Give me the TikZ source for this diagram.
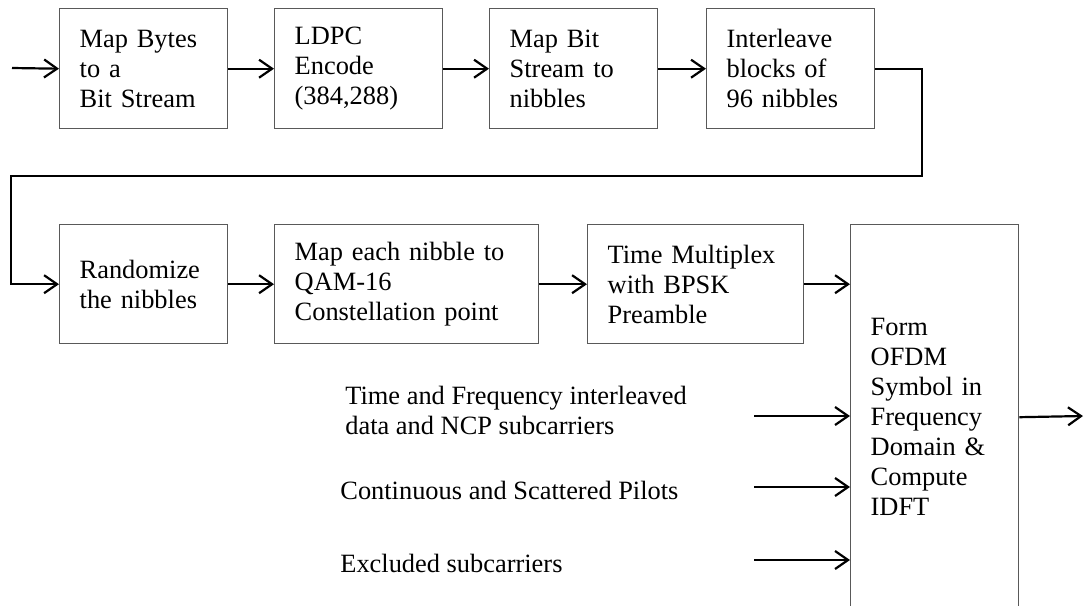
\documentclass[tikz,border=0pt]{standalone}
\usepackage{fontspec}
\setmainfont{Liberation Serif}
\usetikzlibrary{arrows.meta}

\begin{document}
\begin{tikzpicture}[x=0.5pt, y=-0.5pt,
	blk/.style={draw=black!65, line width=0.7pt, anchor=north west, align=left,
		inner xsep=10pt, inner ysep=0pt, font=\fontsize{13.2}{15}\selectfont},
	arr/.style={line width=1.1pt, -{Straight Barb[length=6.5pt, width=9pt]}},
	lbl/.style={anchor=west, align=left, inner sep=0pt, font=\fontsize{13.2}{15}\selectfont}]
	\useasboundingbox (0,0) rectangle (1084,606);
	
	\coordinate (in) at (12,68);
	\coordinate (turnA) at (922,176);
	\coordinate (turnB) at (11,176);
	\coordinate (s1) at (754,416);
	\coordinate (s2) at (754,487);
	\coordinate (s3) at (754,560);
	\coordinate (out) at (1083,416);
	
	\node [blk, text width=64pt, minimum height=60pt] (bytes) at (59,8) {Map Bytes\\to a\\Bit Stream};
	\node [blk, text width=64pt, minimum height=60pt] (ldpc) at (274,8) {LDPC\\Encode\\(384,288)};
	\node [blk, text width=64pt, minimum height=60pt] (nib) at (489,8) {Map Bit\\Stream to\\nibbles};
	\node [blk, text width=64pt, minimum height=60pt] (ilv) at (706,8) {Interleave\\blocks of\\96 nibbles};
	
	\node [blk, text width=64pt, minimum height=59.5pt] (rand) at (59,224) {Randomize\\the nibbles};
	\node [blk, text width=112pt, minimum height=59.5pt] (qam) at (274,224) {Map each nibble to\\QAM-16\\Constellation point};
	\node [blk, text width=88pt, minimum height=59.5pt] (mux) at (587,224) {Time Multiplex\\with BPSK\\Preamble};
	\node [blk, text width=64pt, minimum height=192.5pt] (ofdm) at (850,224) {Form\\OFDM\\Symbol in\\Frequency\\Domain \&\\Compute\\IDFT};
	
	\node [lbl] (tf) at (345,410) {Time and Frequency interleaved\\data and NCP subcarriers};
	\node [lbl] (pil) at (340,490) {Continuous and Scattered Pilots};
	\node [lbl] (exc) at (340,563) {Excluded subcarriers};
	
	\draw [arr] (in) -- (bytes.west);
	\draw [arr] (bytes.east) -- (ldpc.west);
	\draw [arr] (ldpc.east) -- (nib.west);
	\draw [arr] (nib.east) -- (ilv.west);
	\draw [arr] (ilv.east) -| (turnA) -- (turnB) |- (rand.west);
	\draw [arr] (rand.east) -- (qam.west);
	\draw [arr] (qam.east) -- (mux.west);
	\draw [arr] (mux.east) -- (mux.east -| ofdm.west);
	\draw [arr] (s1) -- (s1 -| ofdm.west);
	\draw [arr] (s2) -- (s2 -| ofdm.west);
	\draw [arr] (s3) -- (s3 -| ofdm.west);
	\draw [arr] (ofdm.east) -- (out);
	
\end{tikzpicture}
\end{document}
